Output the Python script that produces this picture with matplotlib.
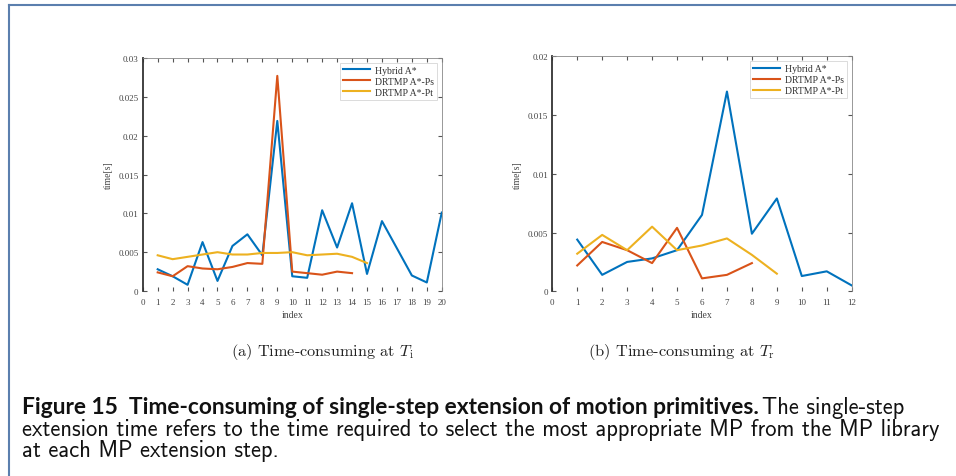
import matplotlib
matplotlib.use("Agg")
import matplotlib.pyplot as plt
from matplotlib.lines import Line2D
from matplotlib.ticker import FuncFormatter

plt.rcParams['mathtext.fontset'] = 'cm'
plt.rcParams['font.family'] = 'Liberation Serif'

# ---- data ----
labels = ["Hybrid A*", "DRTMP A*-Ps", "DRTMP A*-Pt"]
colors = ["#0072BD", "#D95319", "#EDB120"]

hybrid_i = [0.0028, 0.0019, 0.0008, 0.0063, 0.0013, 0.0058, 0.0073, 0.0046, 0.0219, 0.0019,
            0.0017, 0.0104, 0.0056, 0.0113, 0.0022, 0.0090, 0.0055, 0.0020, 0.0011, 0.0101]
ps_i = [0.0024, 0.0019, 0.0032, 0.0029, 0.0028, 0.0031, 0.0036, 0.0035, 0.0277, 0.0025,
        0.0023, 0.0021, 0.0025, 0.0023]
pt_i = [0.0046, 0.0041, 0.0044, 0.0047, 0.0050, 0.0047, 0.0047, 0.0049, 0.0049, 0.0050,
        0.0046, 0.0047, 0.0048, 0.0044, 0.0036]

hybrid_r = [0.0044, 0.0014, 0.0025, 0.0028, 0.0035, 0.0065, 0.0170, 0.0049, 0.0079, 0.0013,
            0.0017, 0.0005]
ps_r = [0.0022, 0.0042, 0.0035, 0.0024, 0.0054, 0.0011, 0.0014, 0.0024]
pt_r = [0.0032, 0.0048, 0.0035, 0.0055, 0.0035, 0.0039, 0.0045, 0.0031, 0.0015]

xmax_i, ymax_i = 20, 0.03
xmax_r, ymax_r = 12, 0.02

sub_a = r"(a) Time-consuming at $T_\mathrm{i}$"
sub_b = r"(b) Time-consuming at $T_\mathrm{r}$"
cap_bold = "Figure 15  Time-consuming of single-step extension of motion primitives."
cap_rest1 = "The single-step"
cap_line2 = "extension time refers to the time required to select the most appropriate MP from the MP library"
cap_line3 = "at each MP extension step."

W, H = 956, 477
fig = plt.figure(figsize=(W / 100, H / 100), dpi=100)
fig.patch.set_facecolor("white")


def style_axes(ax, xmax, ymax, step):
    ax.set_xlim(0, xmax)
    ax.set_ylim(0, ymax)
    ax.set_xticks(range(0, xmax + 1))
    yt = [k * step for k in range(int(round(ymax / step)) + 1)]
    ax.set_yticks(yt)
    ax.yaxis.set_major_formatter(FuncFormatter(lambda v, p: "%g" % round(v, 4)))
    ax.tick_params(direction="in", top=True, right=True, length=3, width=0.8,
                   labelsize=6.5, colors="#555555", labelcolor="#444444", pad=3)
    ax.tick_params(axis="x", pad=5)
    ax.spines["left"].set_color("#333333")
    ax.spines["left"].set_linewidth(1.3)
    ax.spines["bottom"].set_visible(False)
    for s in ["top", "right"]:
        ax.spines[s].set_color("#888888")
        ax.spines[s].set_linewidth(0.6)
    ax.set_xlabel("index", fontsize=7, color="#444444", labelpad=3)
    ax.set_ylabel("time[s]", fontsize=7, color="#444444", labelpad=4)
    leg = ax.legend(loc="upper right", fontsize=7, handlelength=2.8, frameon=True,
                    fancybox=False, borderaxespad=0.5, labelspacing=0.2,
                    borderpad=0.3, handletextpad=0.5)
    leg.get_frame().set_edgecolor("#cccccc")
    leg.get_frame().set_linewidth(0.6)
    for t in leg.get_texts():
        t.set_color("#333333")


ax1 = fig.add_axes([0.1493, 0.3878, 0.3128, 0.4885])
for ys, c, lab in zip([hybrid_i, ps_i, pt_i], colors, labels):
    ax1.plot(range(1, len(ys) + 1), ys, color=c, lw=1.5, label=lab)
style_axes(ax1, xmax_i, ymax_i, 0.005)

ax2 = fig.add_axes([0.5777, 0.3872, 0.3132, 0.4927])
for ys, c, lab in zip([hybrid_r, ps_r, pt_r], colors, labels):
    ax2.plot(range(1, len(ys) + 1), ys, color=c, lw=1.5, label=lab)
style_axes(ax2, xmax_r, ymax_r, 0.005)

# page frame
frame_c = "#5b7fae"
fig.add_artist(Line2D([9 / W, 1], [1 - 6 / H, 1 - 6 / H], color=frame_c, lw=1.5))
fig.add_artist(Line2D([9 / W, 9 / W], [0, 1 - 6 / H], color=frame_c, lw=1.5))

renderer = fig.canvas.get_renderer()


def fit(t, width_px):
    bb = t.get_window_extent(renderer)
    t.set_fontsize(t.get_fontsize() * width_px / bb.width)
    return t


fit(fig.text(322 / W, 1 - 352 / H, sub_a, fontname="cmr10", fontsize=12,
             ha="center", va="center", color="#222222"), 183)
fit(fig.text(681 / W, 1 - 352 / H, sub_b, fontname="cmr10", fontsize=12,
             ha="center", va="center", color="#222222"), 187)

x0 = 22 / W
l2 = fit(fig.text(x0, 1 - 430 / H, cap_line2, fontname="cmss10", fontsize=12,
                  va="center", color="#111111"), 923)
fs = l2.get_fontsize()
fig.text(x0, 1 - 451 / H, cap_line3, fontname="cmss10", fontsize=fs,
         va="center", color="#111111")
rest = fig.text(0, 1 - 408 / H, cap_rest1, fontname="cmss10", fontsize=fs,
                va="center", color="#111111")
rest_w = rest.get_window_extent(renderer).width
bold = fig.text(x0, 1 - 408 / H, cap_bold, fontsize=12, fontweight="bold",
                family=["Lato", "DejaVu Sans"], va="center", color="#111111")
fit(bold, 903 - 22 - rest_w - 3)
bw = bold.get_window_extent(renderer)
rest.set_x((bw.x1 + 3) / W)

fig.savefig("out.png", dpi=100)
